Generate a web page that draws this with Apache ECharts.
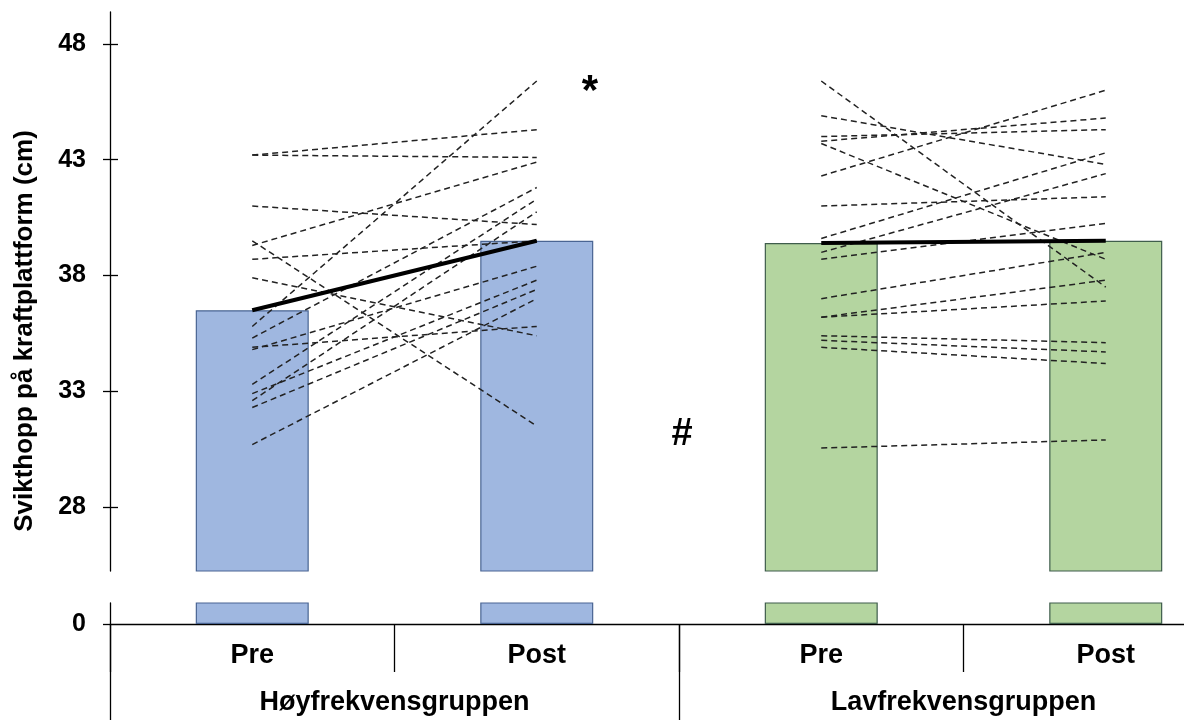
<!DOCTYPE html>
<html>
<head>
<meta charset="utf-8">
<script src="https://cdn.jsdelivr.net/npm/echarts@6/dist/echarts.min.js"></script>
<style>
  html, body { margin: 0; padding: 0; background: #fff; }
  #chart { width: 1184px; height: 722px; }
</style>
</head>
<body>
<div id="chart"></div>
<script>
var categories = ['Pre', 'Post', 'Pre', 'Post']
var groups = ['Høyfrekvensgruppen', 'Lavfrekvensgruppen']
var yTicks = [28, 33, 38, 43, 48]
var yTicksLow = [0]

// gruppesnitt (søyler + tykk linje)
var meanHoy = [36.5, 39.5]
var meanLav = [39.4, 39.5]

// enkeltpersoner, pre -> post
var hoyPre  = [43.2, 43.2, 41.0, 39.5, 39.3, 38.7, 37.9, 35.8, 35.3, 34.9, 34.8, 33.3, 32.9, 32.6, 32.3, 30.7]
var hoyPost = [44.3, 43.1, 40.2, 31.5, 42.9, 39.5, 35.4, 46.4, 41.8, 35.8, 38.4, 41.3, 37.8, 40.75, 37.4, 37.0]
var lavPre  = [46.4, 44.9, 44.0, 43.8, 43.7, 42.3, 41.0, 39.6, 39.0, 38.7, 37.0, 36.2, 36.2, 35.4, 35.2, 34.9, 30.55]
var lavPost = [37.5, 42.8, 44.3, 44.8, 38.7, 46.0, 41.4, 43.3, 42.4, 40.25, 39.0, 36.9, 37.8, 35.1, 34.7, 34.2, 30.9]

var font = 'Arial, "Liberation Sans", sans-serif'
var blue = '#9fb7e0', blueEdge = '#4a6593'
var green = '#b4d5a0', greenEdge = '#3f5d4c'

var chart = echarts.init(document.getElementById('chart'), null, { renderer: 'canvas' })

var barData = [
  { value: meanHoy[0], itemStyle: { color: blue, borderColor: blueEdge } },
  { value: meanHoy[1], itemStyle: { color: blue, borderColor: blueEdge } },
  { value: meanLav[0], itemStyle: { color: green, borderColor: greenEdge } },
  { value: meanLav[1], itemStyle: { color: green, borderColor: greenEdge } }
]

var series = []
// søyler i øvre og nedre del (brutt akse)
series.push({
  type: 'bar', xAxisIndex: 0, yAxisIndex: 0, barWidth: 113, clip: true,
  itemStyle: { borderWidth: 1.2 }, data: barData, z: 1
})
series.push({
  type: 'bar', xAxisIndex: 1, yAxisIndex: 2, barWidth: 113, clip: true,
  itemStyle: { borderWidth: 1.2 }, data: barData, z: 1
})

function personLine(pre, post, first) {
  var d = ['-', '-', '-', '-']
  d[first] = pre
  d[first + 1] = post
  return {
    type: 'line', xAxisIndex: 0, yAxisIndex: 0, data: d,
    symbol: 'none', silent: true, z: 3,
    lineStyle: { color: '#222', width: 1.5, type: [6, 4] }
  }
}
for (var i = 0; i < hoyPre.length; i++) series.push(personLine(hoyPre[i], hoyPost[i], 0))
for (var j = 0; j < lavPre.length; j++) series.push(personLine(lavPre[j], lavPost[j], 2))

// snittlinjer
series.push({
  type: 'line', xAxisIndex: 0, yAxisIndex: 0, symbol: 'none', z: 4,
  data: [meanHoy[0], meanHoy[1], '-', '-'],
  lineStyle: { color: '#000', width: 4 }
})
series.push({
  type: 'line', xAxisIndex: 0, yAxisIndex: 0, symbol: 'none', z: 4,
  data: ['-', '-', meanLav[0], meanLav[1]],
  lineStyle: { color: '#000', width: 4 }
})

var tickStyle = { color: '#000', width: 1.3 }

var option = {
  animation: false,
  backgroundColor: '#fff',
  grid: [
    { left: 110, width: 1138, top: 12, height: 559, outerBoundsMode: 'none' },
    { left: 110, width: 1138, top: 603, height: 21, outerBoundsMode: 'none' }
  ],
  xAxis: [
    { type: 'category', gridIndex: 0, data: categories, show: false },
    {
      type: 'category', gridIndex: 1, data: categories, position: 'bottom',
      axisLine: { show: true, lineStyle: tickStyle },
      axisTick: { show: true, alignWithLabel: false, interval: 0, length: 48, lineStyle: tickStyle },
      axisLabel: { interval: 0, margin: 18, color: '#000', fontSize: 27, fontWeight: 'bold', fontFamily: font }
    },
    {
      type: 'category', gridIndex: 1, data: groups, position: 'bottom',
      axisLine: { show: false },
      axisTick: { show: true, alignWithLabel: false, interval: 0, length: 96, lineStyle: tickStyle },
      axisLabel: { interval: 0, margin: 65, color: '#000', fontSize: 27, fontWeight: 'bold', fontFamily: font }
    }
  ],
  yAxis: [
    {
      type: 'value', gridIndex: 0, min: 25.24, max: 49.38, position: 'left',
      splitLine: { show: false },
      axisLine: { show: true, lineStyle: tickStyle },
      axisTick: { show: false },
      axisLabel: { customValues: yTicks, margin: 24, color: '#000', fontSize: 25, fontWeight: 'bold', fontFamily: font }
    },
    {
      // hjelpeakse: tikker som krysser aksen
      type: 'value', gridIndex: 0, min: 25.24, max: 49.38, position: 'left', offset: -8,
      splitLine: { show: false },
      axisLine: { show: true, lineStyle: { color: '#000', width: 1, opacity: 0 } },
      axisLabel: { show: false },
      axisTick: { show: true, length: 15, customValues: yTicks, lineStyle: tickStyle }
    },
    {
      type: 'value', gridIndex: 1, min: 0, max: 0.907, position: 'left',
      splitLine: { show: false },
      axisLine: { show: true, lineStyle: tickStyle },
      axisTick: { show: true, length: 7, customValues: yTicksLow, lineStyle: tickStyle },
      axisLabel: { customValues: yTicksLow, margin: 24, color: '#000', fontSize: 25, fontWeight: 'bold', fontFamily: font }
    }
  ],
  graphic: [
    {
      type: 'text', x: 25, y: 331, rotation: Math.PI / 2,
      style: {
        text: 'Svikthopp på kraftplattform (cm)', fill: '#000',
        font: 'bold 26px ' + font, align: 'center', verticalAlign: 'middle'
      }
    },
    {
      type: 'text', x: 590, y: 92,
      style: { text: '*', fill: '#000', font: 'bold 42px ' + font, align: 'center', verticalAlign: 'middle' }
    },
    {
      type: 'text', x: 682, y: 435,
      style: { text: '#', fill: '#000', font: 'bold 38px ' + font, align: 'center', verticalAlign: 'middle' }
    }
  ],
  series: series
}
chart.setOption(option)
</script>
</body>
</html>
